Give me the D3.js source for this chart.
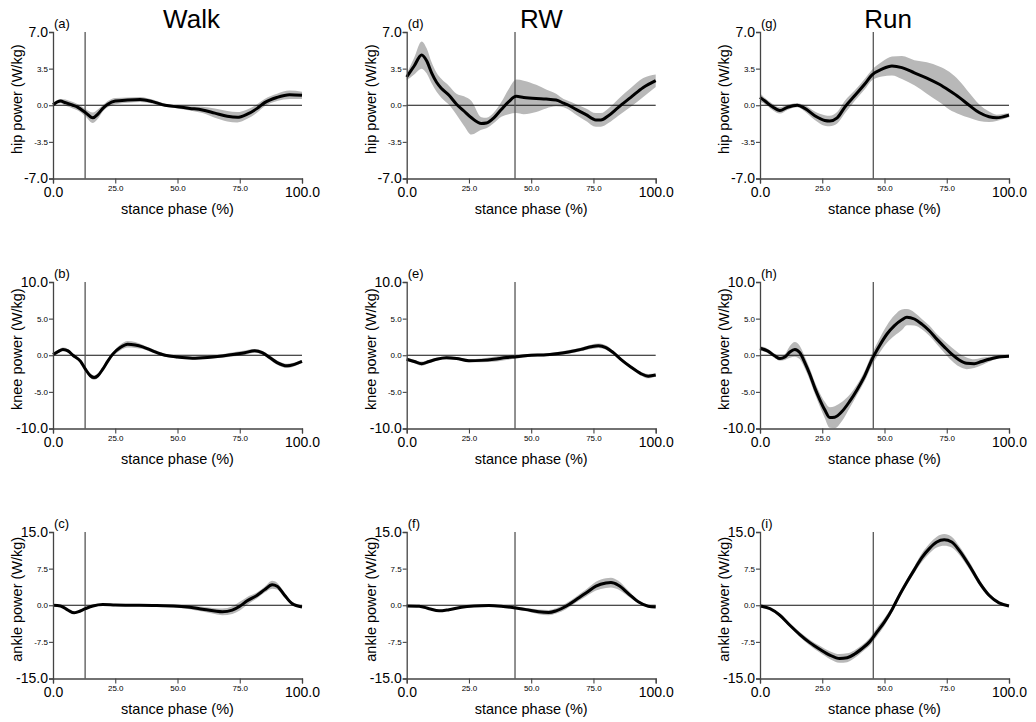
<!DOCTYPE html>
<html>
<head>
<meta charset="utf-8">
<script src="https://cdn.jsdelivr.net/npm/d3@7"></script>
<style>
  html, body { margin: 0; padding: 0; background: #fff; }
  svg { display: block; font-family: "Liberation Sans", Arial, sans-serif; }
</style>
</head>
<body>
<svg id="chart" width="1036" height="722"></svg>
<script>
// ---------- data ----------
const conditions = ["Walk", "RW", "Run"];
const joints = ["hip", "knee", "ankle"];
const panelLetters = [["(a)", "(b)", "(c)"], ["(d)", "(e)", "(f)"], ["(g)", "(h)", "(i)"]];
const yLimits = [7, 10, 15];
const yTicks = [[-7, -3.5, 0, 3.5, 7], [-10, -5, 0, 5, 10], [-15, -7.5, 0, 7.5, 15]];
const xTicks = [0, 25, 50, 75, 100];
const toeOff = [12.9, 43.5, 45.5];

// Walk hip (a)
const walkHipX    = [0, 3, 5, 8, 10, 13, 16, 18, 20, 22, 25, 30, 35, 40, 45, 50, 55, 60, 65, 70, 74, 78, 82, 85, 90, 95, 100];
const walkHipMean = [0.05, 0.4, 0.25, 0.0, -0.2, -0.7, -1.2, -0.85, -0.3, 0.1, 0.4, 0.5, 0.55, 0.35, 0.0, -0.15, -0.3, -0.45, -0.75, -1.05, -1.15, -0.85, -0.3, 0.25, 0.75, 1.0, 0.95];
const walkHipSD   = [0.1, 0.2, 0.3, 0.3, 0.3, 0.35, 0.5, 0.45, 0.3, 0.3, 0.3, 0.25, 0.25, 0.2, 0.15, 0.15, 0.2, 0.3, 0.45, 0.5, 0.5, 0.45, 0.4, 0.35, 0.35, 0.4, 0.35];

// RW hip (d)
const rwHipX    = [0, 3, 6, 8, 10, 12, 14, 17, 20, 23, 26, 30, 32, 35, 38, 41, 44, 47, 52, 56, 60, 63, 65, 68, 72, 76, 78, 81, 85, 90, 95, 100];
const rwHipMean = [2.7, 3.75, 4.8, 4.25, 3.1, 2.2, 1.6, 0.95, 0.1, -0.55, -1.2, -1.75, -1.7, -1.2, -0.4, 0.35, 0.85, 0.75, 0.65, 0.6, 0.5, 0.2, 0.0, -0.4, -0.9, -1.4, -1.4, -1.0, -0.2, 0.75, 1.7, 2.35];
const rwHipSD   = [0.3, 0.8, 1.3, 1.2, 1.0, 0.9, 0.9, 0.9, 1.0, 1.4, 1.6, 0.6, 0.5, 0.5, 0.7, 1.2, 1.6, 1.6, 1.3, 0.9, 0.6, 0.4, 0.4, 0.5, 0.6, 0.65, 0.65, 0.7, 0.8, 0.9, 0.9, 0.6];

// Run hip (g)
const runHipX    = [0, 2, 5, 8, 11, 15, 18, 22, 26, 28, 31, 34, 38, 42, 45, 49, 53, 57, 62, 67, 72, 76, 80, 84, 88, 92, 95, 100];
const runHipMean = [0.75, 0.4, -0.15, -0.5, -0.2, 0.0, -0.3, -1.0, -1.45, -1.5, -1.2, -0.2, 0.9, 2.0, 2.9, 3.45, 3.75, 3.6, 3.1, 2.6, 2.0, 1.4, 0.75, 0.0, -0.7, -1.1, -1.2, -0.95];
const runHipSD   = [0.4, 0.3, 0.3, 0.3, 0.25, 0.2, 0.3, 0.4, 0.5, 0.5, 0.55, 0.6, 0.5, 0.5, 0.5, 0.7, 0.9, 1.1, 1.2, 1.5, 1.7, 1.8, 1.6, 1.2, 0.8, 0.5, 0.3, 0.2];

// Walk knee (b)
const walkKneeX    = [0, 2, 4, 6, 8, 11, 13, 15, 16.5, 18, 20, 22, 24, 27, 30, 33, 36, 40, 45, 50, 56, 62, 68, 73, 77, 81, 84, 87, 90, 94, 97, 100];
const walkKneeMean = [0.1, 0.5, 0.8, 0.6, 0.0, -0.8, -1.9, -2.8, -3.05, -2.8, -1.9, -0.8, 0.15, 1.05, 1.5, 1.4, 1.15, 0.6, 0.0, -0.25, -0.4, -0.3, -0.1, 0.15, 0.35, 0.6, 0.35, -0.3, -1.0, -1.45, -1.25, -0.85];
const walkKneeSD   = [0.1, 0.2, 0.25, 0.25, 0.2, 0.2, 0.25, 0.3, 0.3, 0.3, 0.3, 0.3, 0.3, 0.4, 0.45, 0.4, 0.3, 0.25, 0.2, 0.2, 0.2, 0.2, 0.25, 0.3, 0.3, 0.25, 0.25, 0.3, 0.3, 0.3, 0.25, 0.2];

// RW knee (e)
const rwKneeX    = [0, 3, 6, 9, 12, 16, 20, 25, 30, 35, 40, 44, 50, 55, 60, 65, 70, 74, 77, 80, 83, 86, 90, 94, 97, 100];
const rwKneeMean = [-0.55, -0.85, -1.15, -0.85, -0.55, -0.35, -0.45, -0.75, -0.7, -0.55, -0.3, -0.2, 0.0, 0.05, 0.2, 0.45, 0.8, 1.15, 1.3, 1.05, 0.35, -0.55, -1.6, -2.5, -2.85, -2.7];
const rwKneeSD   = [0.2, 0.25, 0.3, 0.25, 0.2, 0.2, 0.2, 0.2, 0.25, 0.35, 0.35, 0.25, 0.2, 0.2, 0.2, 0.25, 0.25, 0.3, 0.3, 0.3, 0.25, 0.2, 0.2, 0.25, 0.3, 0.2];

// Run knee (h)
const runKneeX    = [0, 3, 6, 8, 10, 12, 14, 16, 18, 20, 22, 24, 26, 28, 30, 33, 36, 39, 42, 45, 48, 51, 54, 57, 59, 62, 65, 68, 71, 74, 77, 80, 83, 86, 89, 92, 95, 100];
const runKneeMean = [0.95, 0.6, -0.1, -0.45, -0.25, 0.45, 0.8, 0.35, -1.0, -2.6, -4.45, -6.05, -7.45, -8.5, -8.45, -7.65, -6.3, -4.7, -2.85, -0.55, 1.3, 2.9, 4.05, 4.85, 5.2, 4.95, 4.25, 3.35, 2.2, 1.15, 0.15, -0.65, -1.1, -1.15, -0.85, -0.55, -0.3, -0.15];
const runKneeSD   = [0.3, 0.3, 0.3, 0.3, 0.4, 0.8, 1.0, 0.9, 0.8, 0.8, 0.8, 0.9, 1.1, 1.4, 1.5, 1.3, 0.9, 0.7, 0.7, 0.8, 1.0, 1.2, 1.4, 1.4, 1.1, 0.9, 0.7, 0.7, 0.7, 0.8, 0.9, 0.9, 0.8, 0.6, 0.5, 0.35, 0.2, 0.1];

// Walk ankle (c)
const walkAnkleX    = [0, 3, 6, 8.5, 10, 13, 16, 20, 25, 30, 40, 50, 55, 60, 65, 68, 72, 75, 78, 82, 85, 88, 90, 93, 96, 100];
const walkAnkleMean = [0.0, -0.15, -1.0, -1.55, -1.35, -0.7, -0.15, 0.15, 0.05, 0.0, -0.05, -0.2, -0.4, -0.8, -1.2, -1.35, -1.0, -0.2, 0.9, 2.05, 3.2, 4.2, 3.9, 2.05, 0.35, -0.35];
const walkAnkleSD   = [0.1, 0.15, 0.2, 0.25, 0.25, 0.2, 0.2, 0.2, 0.2, 0.2, 0.2, 0.3, 0.4, 0.5, 0.6, 0.7, 0.8, 0.9, 0.8, 0.6, 0.6, 0.8, 0.7, 0.5, 0.3, 0.2];

// RW ankle (f)
const rwAnkleX    = [0, 5, 9, 13, 17, 22, 27, 33, 38, 43, 48, 53, 57, 60, 64, 68, 72, 76, 80, 82, 85, 89, 93, 97, 100];
const rwAnkleMean = [-0.15, -0.2, -0.7, -1.15, -0.9, -0.4, -0.15, -0.05, -0.2, -0.5, -0.9, -1.35, -1.5, -1.15, -0.2, 1.15, 2.5, 3.9, 4.55, 4.65, 4.1, 2.4, 0.7, -0.2, -0.35];
const rwAnkleSD   = [0.1, 0.15, 0.2, 0.2, 0.2, 0.2, 0.2, 0.2, 0.2, 0.25, 0.35, 0.5, 0.55, 0.55, 0.6, 0.6, 0.7, 0.9, 1.0, 1.0, 0.9, 0.6, 0.3, 0.2, 0.15];

// Run ankle (i)
const runAnkleX    = [0, 4, 8, 12, 16, 20, 24, 28, 32, 35, 38, 41, 44, 47, 50, 53, 56, 59, 62, 65, 68, 71, 74, 77, 80, 84, 88, 92, 96, 100];
const runAnkleMean = [-0.15, -0.7, -2.05, -4.1, -6.0, -7.65, -9.0, -10.2, -10.9, -10.75, -10.0, -8.85, -7.5, -5.45, -3.4, -0.9, 2.05, 4.75, 7.3, 9.75, 11.6, 12.95, 13.4, 12.95, 11.25, 8.2, 4.75, 2.05, 0.5, -0.15];
const runAnkleSD   = [0.1, 0.2, 0.3, 0.4, 0.5, 0.6, 0.7, 0.8, 0.9, 0.9, 0.8, 0.7, 0.8, 0.9, 0.8, 0.6, 0.5, 0.6, 0.7, 0.9, 1.0, 1.1, 1.2, 1.1, 0.9, 0.8, 0.6, 0.4, 0.2, 0.1];

// assemble series [column][row]
const series = [
  [[walkHipX, walkHipMean, walkHipSD], [walkKneeX, walkKneeMean, walkKneeSD], [walkAnkleX, walkAnkleMean, walkAnkleSD]],
  [[rwHipX, rwHipMean, rwHipSD], [rwKneeX, rwKneeMean, rwKneeSD], [rwAnkleX, rwAnkleMean, rwAnkleSD]],
  [[runHipX, runHipMean, runHipSD], [runKneeX, runKneeMean, runKneeSD], [runAnkleX, runAnkleMean, runAnkleSD]]
];

// ---------- layout ----------
const colLeft = [53, 406.7, 760];
const plotW = 249;
const rowTop = [32, 282, 532];
const plotH = 146.5;
const titleX = [191.5, 541.5, 888];
const axisColor = "#444";

const svg = d3.select("#chart");

conditions.forEach((cond, c) => {
  svg.append("text")
    .attr("x", titleX[c]).attr("y", 28)
    .attr("text-anchor", "middle")
    .attr("font-size", 26)
    .attr("fill", "#000")
    .text(cond);

  joints.forEach((joint, r) => {
    const L = colLeft[c], T = rowTop[r];
    const x = d3.scaleLinear().domain([0, 100]).range([L, L + plotW]);
    const y = d3.scaleLinear().domain([-yLimits[r], yLimits[r]]).range([T + plotH, T]);
    const [xs, mean, sd] = series[c][r];
    const pts = xs.map((v, i) => ({ x: v, m: mean[i], s: sd[i] }));
    const g = svg.append("g");

    // SD band
    const area = d3.area()
      .x(d => x(d.x)).y0(d => y(d.m - d.s)).y1(d => y(d.m + d.s))
      .curve(d3.curveMonotoneX);
    g.append("path").datum(pts)
      .attr("d", area)
      .attr("fill", "#b8b8b8")
      .attr("stroke", "none");

    // zero line
    g.append("line")
      .attr("x1", x(0)).attr("x2", x(100))
      .attr("y1", y(0)).attr("y2", y(0))
      .attr("stroke", "#111").attr("stroke-width", 1);

    // toe-off vertical line
    g.append("line")
      .attr("x1", x(toeOff[c])).attr("x2", x(toeOff[c]))
      .attr("y1", y(yLimits[r])).attr("y2", y(-yLimits[r]))
      .attr("stroke", "#555").attr("stroke-width", 1.3);

    // mean line
    const line = d3.line().x(d => x(d.x)).y(d => y(d.m)).curve(d3.curveMonotoneX);
    g.append("path").datum(pts)
      .attr("d", line)
      .attr("fill", "none")
      .attr("stroke", "#000")
      .attr("stroke-width", 3)
      .attr("stroke-linejoin", "round");

    // y axis
    const yAxis = d3.axisLeft(y).tickValues(yTicks[r]).tickSize(4).tickFormat(d => d.toFixed(1));
    const ya = g.append("g").attr("transform", `translate(${L},0)`).call(yAxis);
    ya.select(".domain").attr("stroke", axisColor).attr("stroke-width", 1.3);
    ya.selectAll(".tick line").attr("stroke", axisColor).attr("stroke-width", 1.1);
    ya.selectAll(".tick text")
      .attr("fill", "#000")
      .attr("x", -5)
      .attr("font-family", "Liberation Sans, Arial, sans-serif")
      .attr("font-size", d => (Math.abs(d) === yLimits[r] ? 14 : 8));

    // x axis
    const xAxis = d3.axisBottom(x).tickValues(xTicks).tickSize(5).tickFormat(d => d.toFixed(1));
    const xa = g.append("g").attr("transform", `translate(0,${T + plotH})`).call(xAxis);
    xa.select(".domain").attr("stroke", axisColor).attr("stroke-width", 1.3);
    xa.selectAll(".tick line").attr("stroke", axisColor).attr("stroke-width", 1.1);
    xa.selectAll(".tick text")
      .attr("fill", "#000")
      .attr("font-family", "Liberation Sans, Arial, sans-serif")
      .attr("y", d => (d === 0 || d === 100 ? 9 : 7))
      .attr("font-size", d => (d === 0 || d === 100 ? 14 : 8));

    // x label
    g.append("text")
      .attr("x", L + plotW / 2).attr("y", T + plotH + 35)
      .attr("text-anchor", "middle")
      .attr("font-size", 14.5)
      .attr("fill", "#000")
      .text("stance phase (%)");

    // y label
    const ly = T + plotH / 2 - 6;
    g.append("text")
      .attr("transform", `translate(${L - 36},${ly}) rotate(-90)`)
      .attr("text-anchor", "middle")
      .attr("dy", "0.35em")
      .attr("font-size", 14.5)
      .attr("fill", "#000")
      .text(`${joint} power (W/kg)`);

    // panel letter
    g.append("text")
      .attr("x", L + 1).attr("y", T - 4)
      .attr("font-size", 13)
      .attr("fill", "#000")
      .text(panelLetters[c][r]);
  });
});
</script>
</body>
</html>
